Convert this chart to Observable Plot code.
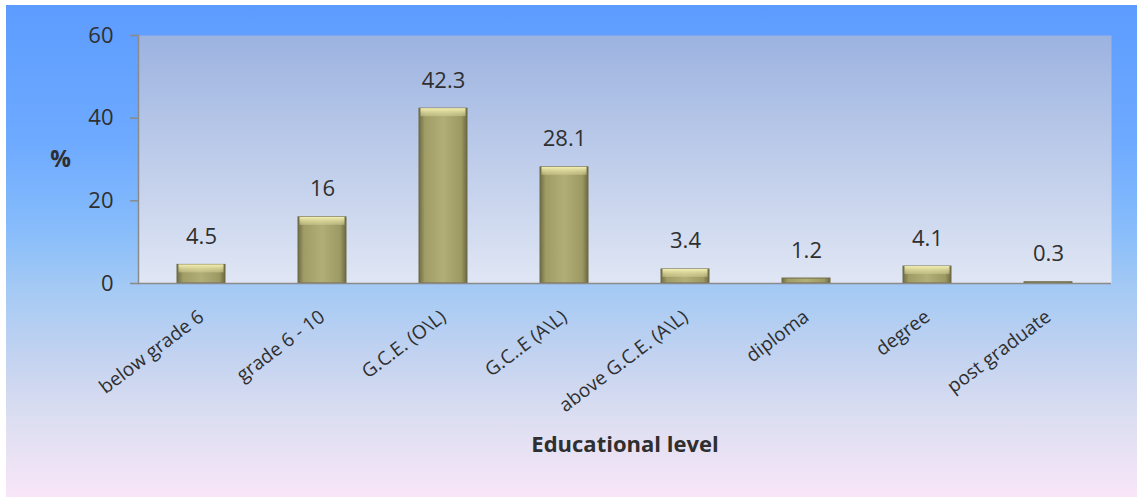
<!DOCTYPE html>
<html><head><meta charset="utf-8">
<script src="https://cdn.jsdelivr.net/npm/d3@7"></script>
<script src="https://cdn.jsdelivr.net/npm/@observablehq/plot@0.6"></script>
<style>
html,body{margin:0;padding:0;background:#fff;}
#chart svg{display:block;}
g[aria-label="y-axis tick"]{stroke:#8a8a8a;}
</style></head><body><div id="chart"></div><script>
const categories = ["below grade 6","grade 6 - 10","G.C.E. (O\\L)","G.C..E (A\\L)","above G.C.E. (A\\L)","diploma","degree","post graduate"];
const percentages = [4.5, 16, 42.3, 28.1, 3.4, 1.2, 4.1, 0.3];
const valueLabels = ["4.5","16","42.3","28.1","3.4","1.2","4.1","0.3"];
const yTicks = [0, 20, 40, 60];
const xTitle = "Educational level";
const yTitle = "%";

const data = categories.map((c, i) => ({category: c, value: percentages[i], label: valueLabels[i]}));

const svg = Plot.plot({
  width: 1137, height: 497,
  marginLeft: 138, marginRight: 26, marginTop: 35, marginBottom: 214,
  style: {
    fontFamily: "'Open Sans', sans-serif", fontSize: "17px", color: "#2f2f2f",
    background: "linear-gradient(to bottom, #5d9cff 0%, #6eaaff 28%, #86bcfb 45%, #a5caf4 58%, #c4d3f0 72%, #dcdef1 84%, #f8e6f8 100%) 6px 5px / 1131px 492px no-repeat, #ffffff"
  },
  x: {domain: categories, paddingInner: 0.6, paddingOuter: 0.3, axis: null, label: null},
  y: {domain: [0, 60], axis: null, label: null},
  marks: [
    Plot.frame({fill: "url(#plotBg)", stroke: "none"}),
    Plot.frame({anchor: "left", stroke: "#8a8a8a", strokeWidth: 1.5}),
    Plot.axisY(yTicks, {tickSize: 8, tickPadding: 17, fontSize: 22, strokeWidth: 1.5, label: null, fill: "#2f2f2f"}),
    Plot.axisX({tickRotate: -37, tickSize: 0, tickPadding: 31, fontSize: 19, label: null, fill: "#2f2f2f"}),
    Plot.barY(data, {x: "category", y: "value", fill: "url(#barGrad)", stroke: "#6d6a45", strokeWidth: 1}),
    Plot.barY(data.filter(d => d.value >= 3), {x: "category", y1: "value", y2: "value", insetBottom: -8, insetLeft: 1.5, insetRight: 1.5, fill: "url(#hlGrad)"}),
    Plot.ruleY([0], {stroke: "#8a8a8a", strokeWidth: 1.5}),
    Plot.text(data, {x: "category", y: "value", text: "label", dy: -28, fontSize: 22, fill: "#2f2f2f"}),
    Plot.text([yTitle], {text: d => d, y: [30], frameAnchor: "left", textAnchor: "middle", dx: -78, fontSize: 23, fontWeight: "bold", fill: "#2f2f2f"}),
    Plot.text([xTitle], {text: d => d, frameAnchor: "bottom", dy: 168, fontSize: 22, fontWeight: "bold", fill: "#2f2f2f"})
  ]
});

svg.insertAdjacentHTML("afterbegin", `<defs>
<linearGradient id="plotBg" x1="0" y1="0" x2="0" y2="1">
  <stop offset="0" stop-color="#9cb3e0"/><stop offset="1" stop-color="#e0e6f4"/>
</linearGradient>
<linearGradient id="barGrad" x1="0" y1="0" x2="1" y2="0">
  <stop offset="0" stop-color="#6f6c45"/><stop offset="0.12" stop-color="#9f9c66"/>
  <stop offset="0.5" stop-color="#b1ae78"/><stop offset="0.88" stop-color="#9c9963"/>
  <stop offset="1" stop-color="#6c6944"/>
</linearGradient>
<linearGradient id="hlGrad" x1="0" y1="0" x2="0" y2="1">
  <stop offset="0" stop-color="#f4f0b2" stop-opacity="1"/>
  <stop offset="1" stop-color="#d2ce92" stop-opacity="0.5"/>
</linearGradient>
</defs>`);

document.getElementById("chart").appendChild(svg);
</script></body></html>
